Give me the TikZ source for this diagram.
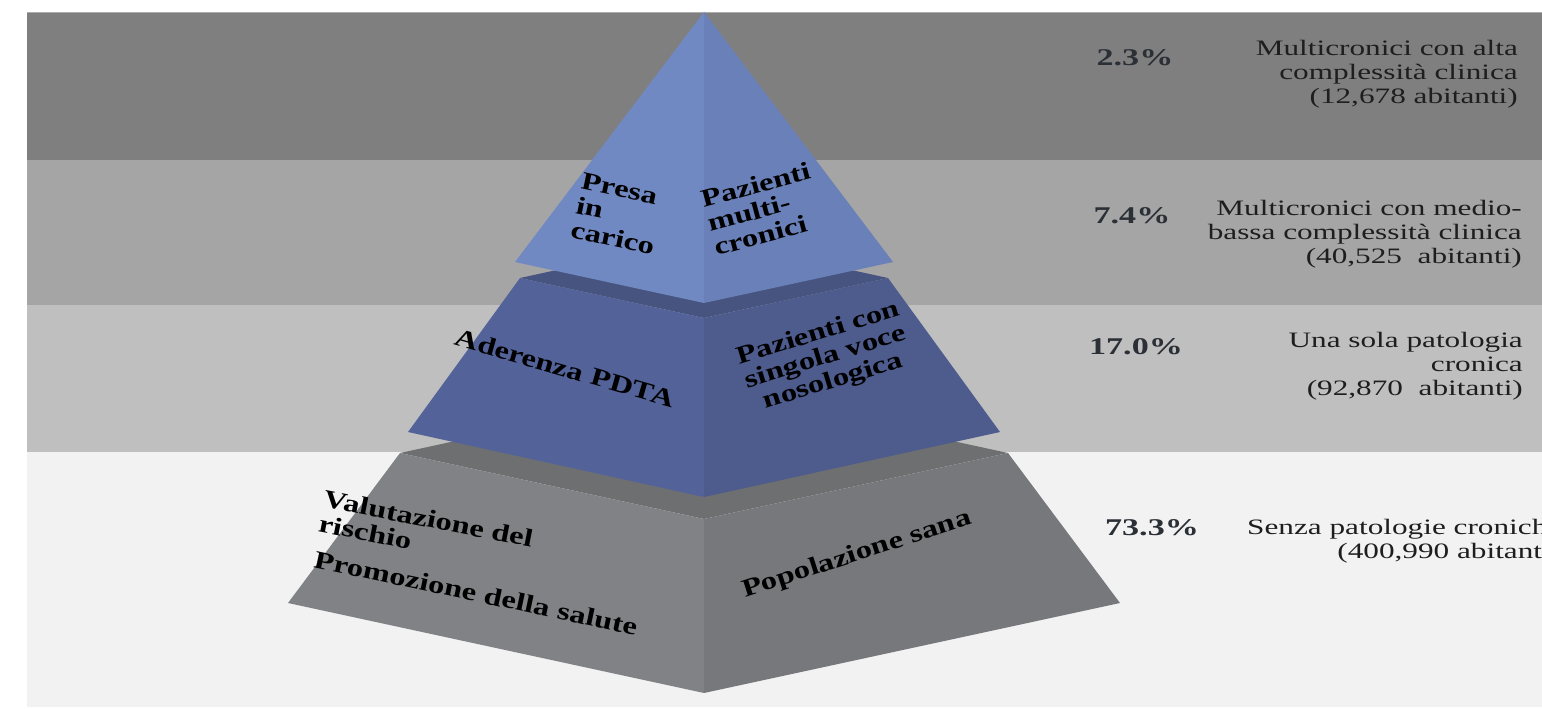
\documentclass[tikz,border=0pt]{standalone}
\usepackage{fontspec}
\setmainfont{Liberation Serif}
\newfontfamily\pyrfont{Liberation Serif}[FakeStretch=1.3]
\newfontfamily\lblfont{Liberation Serif}[FakeStretch=1.42]
\definecolor{bandA}{HTML}{7F7F7F}
\definecolor{bandB}{HTML}{A5A5A5}
\definecolor{bandC}{HTML}{BFBFBF}
\definecolor{bandD}{HTML}{F2F2F2}
\definecolor{topL}{HTML}{7189C3}
\definecolor{topR}{HTML}{6A80B8}
\definecolor{midT}{HTML}{46547F}
\definecolor{midL}{HTML}{53639A}
\definecolor{midR}{HTML}{4D5B8D}
\definecolor{botT}{HTML}{6D6F71}
\definecolor{botL}{HTML}{808285}
\definecolor{botR}{HTML}{76787B}
\definecolor{pctcol}{HTML}{2B2F36}
\definecolor{lblcol}{HTML}{1E1E1E}
\tikzset{
  pyr/.style={font=\pyrfont\bfseries\fontsize{25}{25}\selectfont, text=black, inner sep=0pt},
  lbl/.style={font=\lblfont\fontsize{22}{24}\selectfont, text=lblcol, align=right, inner sep=0pt},
  pct/.style={font=\lblfont\bfseries\fontsize{24}{26}\selectfont, text=pctcol, inner sep=0pt}
}
\begin{document}
\begin{tikzpicture}[x=1pt,y=-1pt]
\useasboundingbox (0,0) rectangle (1542,709);
\clip (0,0) rectangle (1542,709);
\fill[white] (0,0) rectangle (1542,709);
% bands
\fill[bandA] (27,12) rectangle (1542,160);
\fill[bandB] (27,160) rectangle (1542,305);
\fill[bandC] (27,305) rectangle (1542,452);
\fill[bandD] (27,452) rectangle (1542,707);
\draw[gray!65, line width=1.2pt] (27,12.6) -- (1542,12.6);
% bottom tier
\fill[botT] (400,453) -- (704,387) -- (1008,453) -- (704,519) -- cycle;
\fill[botL] (400,453) -- (704,519) -- (704,693) -- (288,603) -- cycle;
\fill[botR] (704,519) -- (1008,453) -- (1120,603) -- (704,693) -- cycle;
% middle tier
\fill[midT] (520,278) -- (704,238) -- (888,278) -- (704,318) -- cycle;
\fill[midL] (520,278) -- (704,318) -- (704,497) -- (408,432) -- cycle;
\fill[midR] (704,318) -- (888,278) -- (1000,432) -- (704,497) -- cycle;
% top tier
\fill[topL] (704,12) -- (704,303) -- (515,262) -- cycle;
\fill[topR] (704,12) -- (893,262) -- (704,303) -- cycle;
% pyramid texts
\node[pyr, rotate=-12, align=left] (presa) at (618,214) {Presa\\in\\carico};
\node[pyr, rotate=15, align=left] (pazm) at (762,209) {Pazienti\\multi-\\cronici};
\node[pyr, rotate=-16] (ader) at (565,368) {Aderenza PDTA};
\node[pyr, rotate=17, align=center] (pazs) at (826,358) {Pazienti con\\singola voce\\nosologica};
\node[pyr, rotate=-11, align=left] (valut) at (426,531) {Valutazione del\\rischio};
\node[pyr, rotate=-12] (promo) at (476,593) {Promozione della salute};
\node[pyr, rotate=18] (popo) at (857,555) {Popolazione sana};
% percentages
\node[pct] (p1) at (1135,58) {2.3\%};
\node[pct] (p2) at (1132,216) {7.4\%};
\node[pct] (p3) at (1136,347) {17.0\%};
\node[pct] (p4) at (1152,528) {73.3\%};
% labels
\node[lbl, anchor=east] (l1) at (1518,74) {Multicronici con alta\\complessità clinica\\(12,678 abitanti)};
\node[lbl, anchor=east] (l2) at (1522,234) {Multicronici con medio-\\bassa complessità clinica\\(40,525\ \ abitanti)};
\node[lbl, anchor=east] (l3) at (1523,366) {Una sola patologia\\cronica\\(92,870\ \ abitanti)};
\node[lbl, anchor=west] (l4) at (1247,541) {Senza patologie croniche\\(400,990 abitanti)};
\end{tikzpicture}
\end{document}
